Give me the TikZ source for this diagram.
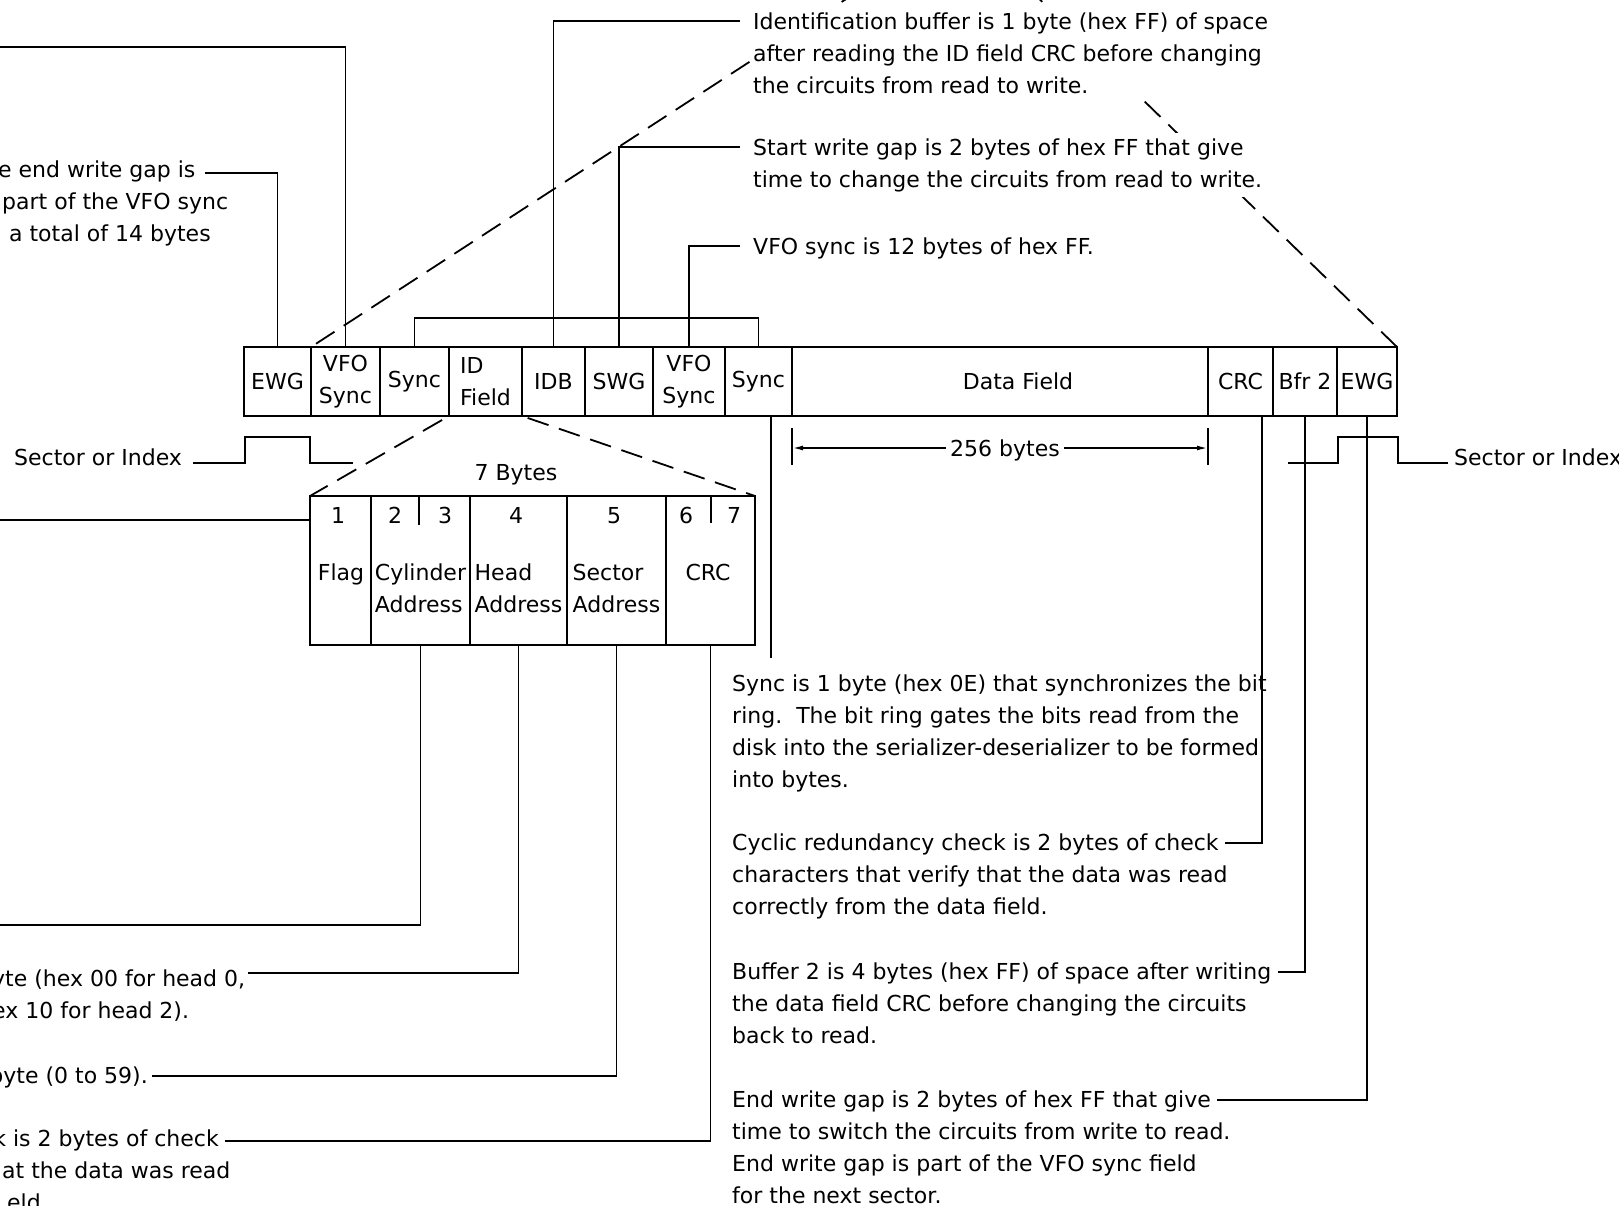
\documentclass[tikz,border=0pt]{standalone}
\usepackage{fontspec}
\setmainfont{DejaVu Sans}
\usetikzlibrary{arrows.meta,positioning}

\begin{document}
\begin{tikzpicture}[x=1pt, y=-1pt, >={Latex[length=11pt,width=5pt]}]
\tikzstyle{txt}=[font=\fontsize{22}{32}\selectfont, inner sep=0pt, align=left]
\tikzstyle{note}=[txt, fill=white, inner ysep=5pt]
\tikzstyle{fld}=[draw, line width=2.2pt, minimum height=69pt, inner sep=0pt, outer sep=0pt, font=\fontsize{22}{32}\selectfont, align=center]
\tikzstyle{byt}=[draw, line width=2.2pt, minimum height=149pt, inner sep=0pt, outer sep=0pt]
\tikzstyle{ldr}=[line width=1.8pt]
\tikzstyle{dsh}=[line width=1.8pt, dash pattern=on 22pt off 11pt]
\useasboundingbox (0,0) rectangle (1619,1205);

\node[fld, minimum width=67pt, anchor=west] (ewgA) at (244,381.5) {EWG};
\node[fld, minimum width=69pt, right=0pt of ewgA] (vfoA) {VFO\\Sync};
\node[fld, minimum width=69pt, right=0pt of vfoA] (syncA) {Sync};
\node[fld, minimum width=73pt, align=left, right=0pt of syncA] (idf) {ID\\Field};
\node[fld, minimum width=63pt, right=0pt of idf] (idb) {IDB};
\node[fld, minimum width=68pt, right=0pt of idb] (swg) {SWG};
\node[fld, minimum width=72pt, right=0pt of swg] (vfoB) {VFO\\Sync};
\node[fld, minimum width=67pt, right=0pt of vfoB] (syncB) {Sync};
\node[fld, minimum width=416pt, right=0pt of syncB, label={[txt, xshift=18pt]center:Data Field}] (data) {};
\node[fld, minimum width=65pt, right=0pt of data] (crcB) {CRC};
\node[fld, minimum width=64pt, right=0pt of crcB] (bfr) {Bfr 2};
\node[fld, minimum width=60pt, right=0pt of bfr] (ewgB) {EWG};

\node[byt, minimum width=61pt, anchor=north west] (f1) at (310,496) {};
\node[byt, minimum width=99pt, right=0pt of f1] (f2) {};
\node[byt, minimum width=97pt, right=0pt of f2] (f3) {};
\node[byt, minimum width=99pt, right=0pt of f3] (f4) {};
\node[byt, minimum width=89pt, right=0pt of f4] (f5) {};
\draw[line width=2.2pt] ([xshift=48pt]f2.north west) -- ++(0,29);
\draw[line width=2.2pt] ([xshift=45pt]f5.north west) -- ++(0,27);
\foreach \n/\x in {1/338,2/395,3/445,4/516,5/614,6/686,7/734}
  \node[txt, anchor=base] (b\n) at (\x,523) {\n};
\node[txt, anchor=base] (flag) at (341,580) {Flag};
\node[txt, anchor=base] (cyl) at (420.5,612) {Cylinder\\Address};
\node[txt, anchor=base] (head) at (518.5,612) {Head\\Address};
\node[txt, anchor=base] (sect) at (616.5,612) {Sector\\Address};
\node[txt, anchor=base] (crcA) at (708,580) {CRC};
\node[txt, anchor=base] (seven) at (516,480) {7 Bytes};

\draw[dsh, shorten <=8pt] (idf.south west) -- (f1.north west);
\draw[dsh, shorten <=6pt] (idf.south east) -- (f5.north east);
\coordinate (topL) at (860,-10);
\coordinate (topR) at (1030,-10);
\draw[dsh, shorten <=6pt] (vfoA.north west) -- (topL);
\draw[dsh] (ewgB.north east) -- (topR);

\node[note, anchor=base west] (idbtxt) at (753,93) {Identification buffer is 1 byte (hex FF) of space\\after reading the ID field CRC before changing\\the circuits from read to write.};
\node[note, anchor=base west] (swgtxt) at (753,187) {Start write gap is 2 bytes of hex FF that give\\time to change the circuits from read to write.};
\node[txt, anchor=base west] (vfotxt) at (753,254) {VFO sync is 12 bytes of hex FF.};
\draw[ldr] (idb.north) |- ([xshift=-13pt,yshift=72pt]idbtxt.base west);
\draw[ldr] (swg.north) |- ([xshift=-13pt,yshift=40pt]swgtxt.base west);
\draw[ldr] (vfoB.north) |- ([xshift=-13pt,yshift=8pt]vfotxt.base west);
\draw[ldr] (syncA.north) -- ([yshift=29pt]syncA.north) -| (syncB.north);

\node[txt, anchor=base west] (ewgL1) at (-2,177) {e end write gap is};
\node[txt, anchor=base west] (ewgL2) at (2,209) {part of the VFO sync};
\node[txt, anchor=base west] (ewgL3) at (-12,241) {g a total of 14 bytes};
\draw[ldr] (ewgA.north) |- ([xshift=9pt,yshift=4pt]ewgL1.base east);
\coordinate (vfoL) at (0,47);
\draw[ldr] (vfoA.north) |- (vfoL);

\node[txt, anchor=base west] (secL) at (14,465) {Sector or Index};
\draw[ldr] ([xshift=11pt,yshift=2pt]secL.base east) -- ++(52,0) -- ++(0,-26) -- ++(65,0) -- ++(0,26) -- ++(43,0);
\node[txt, anchor=base west] (secR) at (1454,465) {Sector or Index};
\draw[ldr] ([xshift=-6pt,yshift=2pt]secR.base west) -- ++(-50,0) -- ++(0,-26) -- ++(-60,0) -- ++(0,26) -- ++(-50,0);

\coordinate (flagL) at (0,520);
\draw[ldr] (flagL) -- (flagL -| f1.west);
\coordinate (cylL) at (0,925);
\draw[ldr] (f2.south) |- (cylL);
\node[txt, anchor=base west] (headL) at (-8,1018) {yte (hex 00 for head 0,\\ex 10 for head 2).};
\draw[ldr] (f3.south) |- ([xshift=3pt,yshift=45pt]headL.base east);
\node[txt, anchor=base east] (sectL) at (148,1083) {byte (0 to 59).};
\draw[ldr] (f4.south) |- ([xshift=4pt,yshift=7pt]sectL.base east);
\node[txt, anchor=base east] (crcL1) at (219,1146) {k is 2 bytes of check};
\node[txt, anchor=base west] (crcL2) at (2,1178) {at the data was read};
\node[txt, anchor=base west] (crcL3) at (7,1210) {eld};
\draw[ldr] (f5.south) |- ([xshift=6pt,yshift=5pt]crcL1.base east);

\coordinate (syncE) at (771,658);
\draw[ldr] (syncB.south -| syncE) -- (syncE);
\node[txt, anchor=base west] (synctxt) at (732,787) {Sync is 1 byte (hex 0E) that synchronizes the bit\\ring.\ \ The bit ring gates the bits read from the\\disk into the serializer-deserializer to be formed\\into bytes.};
\node[txt, anchor=base west] (crctxt) at (732,914) {Cyclic redundancy check is 2 bytes of check\\characters that verify that the data was read\\correctly from the data field.};
\draw[ldr] ([xshift=21.5pt]crcB.south) |- ([xshift=493pt,yshift=71pt]crctxt.base west);
\node[txt, anchor=base west] (bfrtxt) at (732,1043) {Buffer 2 is 4 bytes (hex FF) of space after writing\\the data field CRC before changing the circuits\\back to read.};
\draw[ldr] (bfr.south) |- ([xshift=546pt,yshift=71pt]bfrtxt.base west);
\node[txt, anchor=base west] (ewgtxt) at (732,1203) {End write gap is 2 bytes of hex FF that give\\time to switch the circuits from write to read.\\End write gap is part of the VFO sync field\\for the next sector.};
\draw[ldr] (ewgB.south) |- ([xshift=485pt,yshift=103pt]ewgtxt.base west);

\node[txt, anchor=base, outer xsep=4pt] (bytes) at (1005,456) {256 bytes};
\draw[ldr] ([yshift=-12pt]data.south west) -- ([yshift=-49pt]data.south west);
\draw[ldr] ([yshift=-12pt]data.south east) -- ([yshift=-49pt]data.south east);
\coordinate (bmid) at ([yshift=8pt]bytes.base);
\draw[ldr,->] (bmid -| bytes.west) -- (bmid -| data.west);
\draw[ldr,->] (bmid -| bytes.east) -- (bmid -| data.east);
\end{tikzpicture}
\end{document}
